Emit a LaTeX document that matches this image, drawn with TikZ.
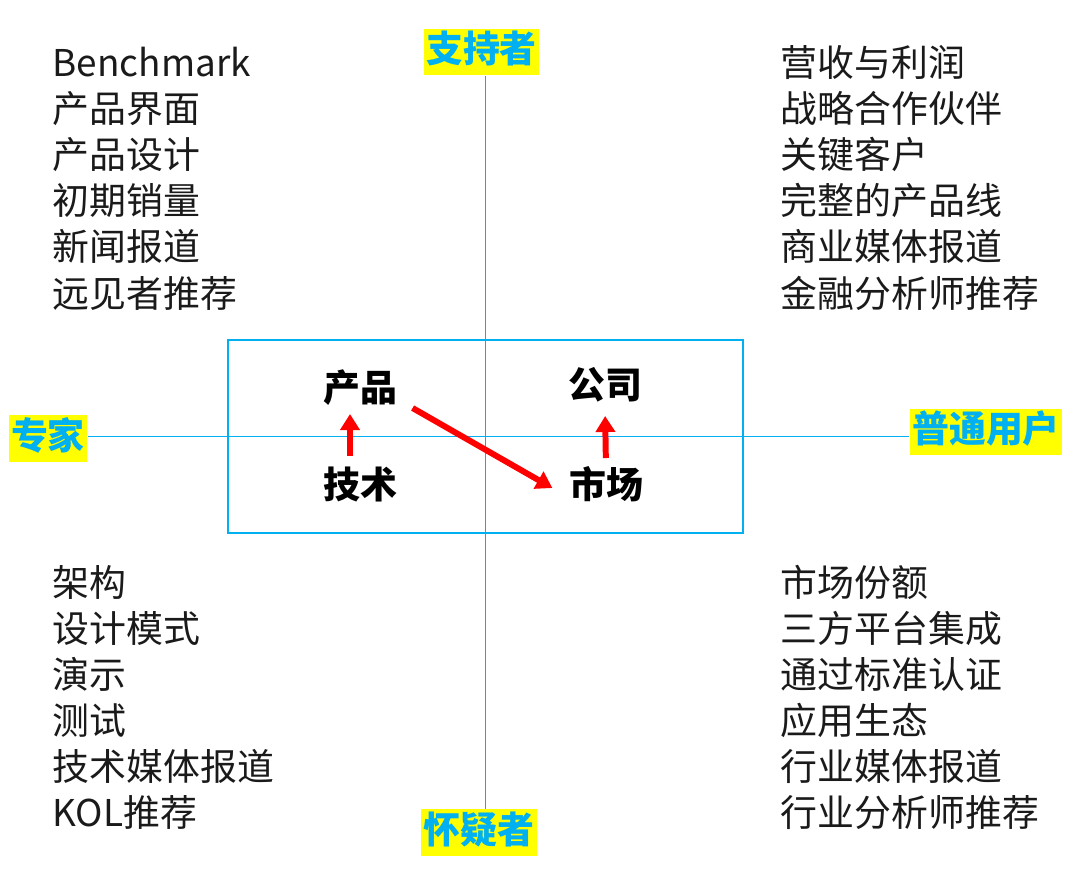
\documentclass[tikz,border=0pt]{standalone}
\usepackage{fontspec}
\setmainfont{Noto Sans CJK SC}
\usepackage{xcolor}
\usepackage{tikz}
\usetikzlibrary{
  arrows.meta,
  positioning
}
\definecolor{axisblue}{HTML}{00B0F0}
\definecolor{tagyellow}{HTML}{FFFF00}
\definecolor{arrowred}{HTML}{FF0000}
\definecolor{darkgrey}{HTML}{1A1A1A}
\tikzset{
  axisline/.style={
    draw=axisblue, line width=0.45pt
  },
  framebox/.style={
    rectangle, draw=axisblue, line width=0.6pt,
    minimum width=5.15cm, minimum height=1.93cm, inner sep=0pt
  },
  tagbox/.style={
    rectangle, fill=tagyellow, text=axisblue,
    font=\fontsize{10.5pt}{12.7pt}\selectfont\bfseries,
    inner xsep=0.25mm, inner ysep=0.5mm,
    text height=2.9mm, text depth=0.76mm
  },
  listline/.style={
    rectangle, inner sep=0pt, text=darkgrey,
    font=\fontsize{10.5pt}{12.7pt}\selectfont,
    text height=2.9mm, text depth=0.76mm
  },
  nextline/.style={
    listline, below right=0.81mm and 0mm of #1.south west
  },
  corebox/.style={
    rectangle, inner sep=0pt, text=black,
    font=\fontsize{10.5pt}{12.7pt}\selectfont\bfseries,
    text height=2.9mm, text depth=0.76mm
  },
  redarrow/.style={
    -{Triangle[length=1.6mm, width=1.9mm]}, line width=1.7pt, color=arrowred
  },
}

\begin{document}
\begin{tikzpicture}
  \useasboundingbox (0,0) rectangle (10.8,-8.82);

  % axis tags
  \node[tagbox] (support) at (4.815,-0.52) {支持者};
  \node[tagbox] (doubt) at (4.79,-8.325) {怀疑者};
  \node[tagbox] (expert) at (0.48,-4.385) {专家};
  \node[tagbox] (user) at (9.86,-4.32) {普通用户};

  % centre frame and axes
  \node[framebox] (frame) at (4.855,-4.365) {};
  \draw[axisline] (support.south -| frame.center) -- (doubt.north -| frame.center);
  \draw[axisline] (expert.east |- frame.center) -- (user.west |- frame.center);

  % core nodes
  \node[corebox] (product) at (3.60,-3.91) {产品};
  \node[corebox] (tech) at (3.60,-4.88) {技术};
  \node[corebox] (company) at (6.05,-3.88) {公司};
  \node[corebox] (market) at (6.06,-4.88) {市场};

  \draw[redarrow, shorten <=1.3mm, shorten >=0.4mm]
    ([xshift=-1mm]tech.north) -- ([xshift=-1mm]product.south);
  \draw[redarrow, shorten <=1.1mm, shorten >=0.9mm]
    (market.north) -- (company.south);
  \draw[redarrow]
    ([xshift=1.5mm,yshift=0.2mm]product.south east) -- ([xshift=-1.6mm]market.west);

  % top left
  \node[listline, anchor=base west] (tl1) at (0.52,-0.765) {Benchmark};
  \node[nextline=tl1] (tl2) {产品界面};
  \node[nextline=tl2] (tl3) {产品设计};
  \node[nextline=tl3] (tl4) {初期销量};
  \node[nextline=tl4] (tl5) {新闻报道};
  \node[nextline=tl5] (tl6) {远见者推荐};

  % top right
  \node[listline, anchor=base west] (tr1) at (7.80,-0.765) {营收与利润};
  \node[nextline=tr1] (tr2) {战略合作伙伴};
  \node[nextline=tr2] (tr3) {关键客户};
  \node[nextline=tr3] (tr4) {完整的产品线};
  \node[nextline=tr4] (tr5) {商业媒体报道};
  \node[nextline=tr5] (tr6) {金融分析师推荐};

  % bottom left
  \node[listline, anchor=base west] (bl1) at (0.52,-5.96) {架构};
  \node[nextline=bl1] (bl2) {设计模式};
  \node[nextline=bl2] (bl3) {演示};
  \node[nextline=bl3] (bl4) {测试};
  \node[nextline=bl4] (bl5) {技术媒体报道};
  \node[nextline=bl5] (bl6) {KOL推荐};

  % bottom right
  \node[listline, anchor=base west] (br1) at (7.80,-5.96) {市场份额};
  \node[nextline=br1] (br2) {三方平台集成};
  \node[nextline=br2] (br3) {通过标准认证};
  \node[nextline=br3] (br4) {应用生态};
  \node[nextline=br4] (br5) {行业媒体报道};
  \node[nextline=br5] (br6) {行业分析师推荐};
\end{tikzpicture}
\end{document}
